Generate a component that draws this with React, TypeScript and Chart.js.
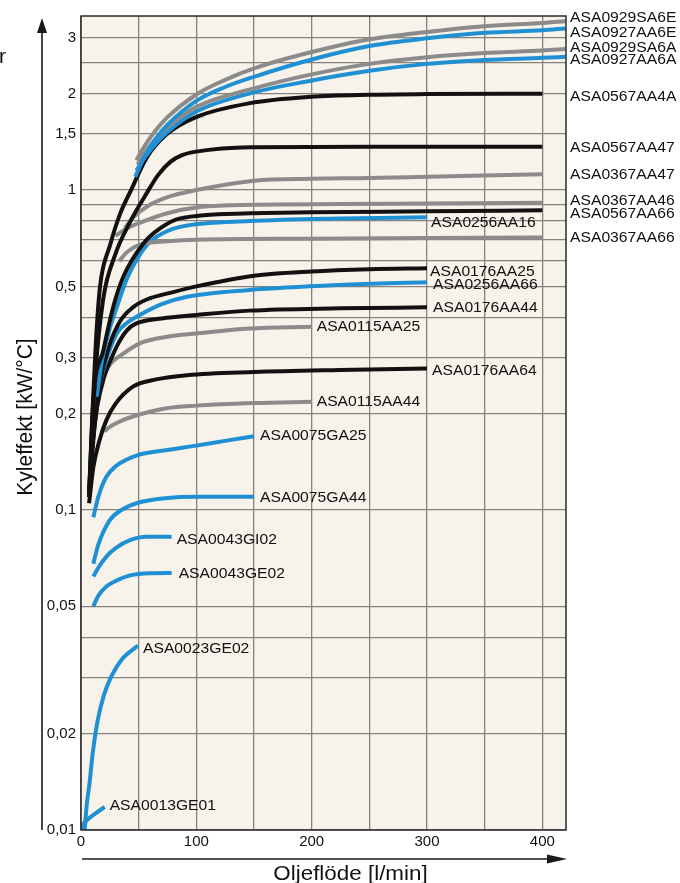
import React, { useEffect, useRef } from 'react';
import { Chart, registerables } from 'chart.js';

Chart.register(...registerables);

// ---------- data (x = Oljeflöde l/min, y = Kyleffekt kW/°C) ----------
const ASA0929SA6E = [[48, 1.24], [55, 1.37], [65, 1.54], [75, 1.69], [100, 1.99], [125, 2.21], [150, 2.4], [200, 2.7], [250, 2.96], [300, 3.12], [350, 3.25], [400, 3.33], [420, 3.37]];
const ASA0927AA6E = [[47, 1.1], [55, 1.27], [65, 1.45], [75, 1.6], [100, 1.9], [125, 2.1], [150, 2.26], [200, 2.56], [250, 2.82], [300, 2.98], [350, 3.1], [400, 3.16], [420, 3.2]];
const ASA0929SA6A = [[49, 1.2], [55, 1.3], [65, 1.45], [75, 1.57], [100, 1.82], [150, 2.08], [200, 2.3], [250, 2.48], [300, 2.6], [350, 2.68], [400, 2.73], [420, 2.76]];
const ASA0927AA6A = [[48, 1.15], [55, 1.26], [65, 1.4], [75, 1.52], [100, 1.76], [150, 2.02], [200, 2.2], [250, 2.36], [300, 2.48], [350, 2.55], [400, 2.59], [420, 2.61]];
const ASA0567AA4A = [[6.9, 0.11], [10.4, 0.22], [13, 0.34], [16.5, 0.5], [25.2, 0.673], [33.8, 0.841], [43.4, 1.0], [57.2, 1.268], [74.5, 1.496], [99.7, 1.69], [146.6, 1.87], [199.5, 1.958], [249.8, 1.986], [300, 1.995], [400, 2.0]];
const ASA0567AA47 = [[6.9, 0.11], [12.1, 0.255], [19.1, 0.453], [29.5, 0.626], [42.5, 0.794], [55.5, 0.958], [66.8, 1.114], [77.2, 1.223], [87.6, 1.286], [99.7, 1.319], [146.6, 1.362], [250, 1.366], [400, 1.367]];
const ASA0367AA47 = [[38, 0.76], [45, 0.82], [57, 0.887], [75, 0.95], [100, 1.0], [150, 1.07], [200, 1.085], [250, 1.09], [300, 1.1], [400, 1.12]];
const ASA0367AA46 = [[30, 0.72], [40, 0.76], [51, 0.79], [74, 0.845], [103, 0.885], [150, 0.9], [224, 0.904], [300, 0.908], [400, 0.913]];
const ASA0567AA66 = [[7, 0.11], [10.7, 0.22], [19.4, 0.316], [28, 0.432], [36.7, 0.536], [54, 0.68], [68.5, 0.759], [86, 0.816], [146.5, 0.846], [200, 0.852], [300, 0.858], [400, 0.865]];
const ASA0367AA66 = [[33, 0.6], [40, 0.64], [51, 0.675], [75, 0.692], [100, 0.7], [200, 0.705], [300, 0.708], [400, 0.711]];
const ASA0256AA16 = [[13.6, 0.226], [18, 0.29], [25, 0.37], [31, 0.43], [40, 0.53], [50, 0.62], [60, 0.69], [75, 0.745], [92, 0.775], [146, 0.8], [224, 0.815], [300, 0.822]];
const ASA0176AA25 = [[7, 0.11], [11, 0.17], [16.5, 0.25], [25, 0.33], [34, 0.39], [45, 0.43], [57, 0.455], [80, 0.48], [100, 0.5], [150, 0.54], [200, 0.557], [250, 0.566], [300, 0.57]];
const ASA0256AA66 = [[13.6, 0.226], [20, 0.28], [31, 0.356], [40, 0.385], [51, 0.407], [70, 0.44], [92, 0.464], [146, 0.487], [224, 0.505], [300, 0.515]];
const ASA0176AA44 = [[7, 0.11], [10, 0.16], [14, 0.21], [20, 0.26], [25, 0.29], [32, 0.33], [40, 0.365], [48, 0.383], [70, 0.397], [100, 0.407], [146, 0.42], [224, 0.427], [300, 0.43]];
const ASA0115AA25 = [[18, 0.26], [25, 0.285], [37, 0.309], [51, 0.332], [75, 0.348], [100, 0.356], [146, 0.369], [200, 0.374]];
const ASA0176AA64 = [[7, 0.105], [10.7, 0.136], [16, 0.165], [22, 0.191], [30, 0.215], [45, 0.243], [65, 0.256], [92, 0.264], [150, 0.27], [224, 0.274], [300, 0.277]];
const ASA0115AA44 = [[20, 0.176], [25, 0.182], [35, 0.19], [45, 0.196], [74, 0.208], [100, 0.212], [150, 0.216], [200, 0.218]];
const ASA0075GA25 = [[10.7, 0.095], [15, 0.11], [22, 0.127], [30, 0.137], [48, 0.148], [75, 0.154], [100, 0.159], [125, 0.1645], [150, 0.17]];
const ASA0075GA44 = [[10.7, 0.068], [15, 0.078], [25, 0.093], [35, 0.1], [48, 0.105], [75, 0.109], [100, 0.11], [150, 0.11]];
const ASA0043GI02 = [[10.7, 0.062], [15, 0.066], [22, 0.0715], [30, 0.076], [42.5, 0.0805], [57, 0.0825], [78.6, 0.0825]];
const ASA0043GE02 = [[10.7, 0.05], [15, 0.054], [22, 0.0577], [30, 0.06], [42.5, 0.0625], [60, 0.0635], [78.6, 0.0636]];
const ASA0023GE02 = [[3.2, 0.01], [5, 0.012], [7.5, 0.0141], [10, 0.0172], [14.7, 0.0222], [20, 0.0265], [26.3, 0.0302], [35, 0.034], [49.4, 0.0377]];
const ASA0013GE01 = [[0.5, 0.01], [2, 0.0104], [6, 0.0108], [13, 0.0113], [20.5, 0.0118]];

const xGridValues = [0, 50, 100, 150, 200, 250, 300, 350, 400];
const xTickLabels = [0, 100, 200, 300, 400];
const yGridValues = [0.01, 0.02, 0.03, 0.04, 0.05, 0.1, 0.2, 0.3, 0.4, 0.5, 0.6, 0.7, 0.8, 0.9, 1, 1.5, 2, 2.5, 3];
const yTickLabels = [0.01, 0.02, 0.05, 0.1, 0.2, 0.3, 0.5, 1, 1.5, 2, 3];

const xTitle = 'Oljeflöde [l/min]';
const yTitle = 'Kyleffekt [kW/°C]';

// ---------- styles ----------
const BLUE = '#1f90d3';
const GRAY = '#8b8b8b';
const BLACK = '#111111';
const BG = '#f7f3ea';
const GRID = '#86827b';
const FONT = '"Liberation Sans", Arial, sans-serif';
const STRETCH = 1.12;

const series = [
  { name: 'ASA0929SA6E', points: ASA0929SA6E, color: GRAY },
  { name: 'ASA0927AA6E', points: ASA0927AA6E, color: BLUE },
  { name: 'ASA0929SA6A', points: ASA0929SA6A, color: GRAY },
  { name: 'ASA0927AA6A', points: ASA0927AA6A, color: BLUE },
  { name: 'ASA0567AA4A', points: ASA0567AA4A, color: BLACK },
  { name: 'ASA0567AA47', points: ASA0567AA47, color: BLACK },
  { name: 'ASA0367AA47', points: ASA0367AA47, color: GRAY },
  { name: 'ASA0367AA46', points: ASA0367AA46, color: GRAY },
  { name: 'ASA0567AA66', points: ASA0567AA66, color: BLACK },
  { name: 'ASA0367AA66', points: ASA0367AA66, color: GRAY },
  { name: 'ASA0256AA16', points: ASA0256AA16, color: BLUE },
  { name: 'ASA0176AA25', points: ASA0176AA25, color: BLACK },
  { name: 'ASA0256AA66', points: ASA0256AA66, color: BLUE },
  { name: 'ASA0176AA44', points: ASA0176AA44, color: BLACK },
  { name: 'ASA0115AA25', points: ASA0115AA25, color: GRAY },
  { name: 'ASA0176AA64', points: ASA0176AA64, color: BLACK },
  { name: 'ASA0115AA44', points: ASA0115AA44, color: GRAY },
  { name: 'ASA0075GA25', points: ASA0075GA25, color: BLUE },
  { name: 'ASA0075GA44', points: ASA0075GA44, color: BLUE },
  { name: 'ASA0043GI02', points: ASA0043GI02, color: BLUE },
  { name: 'ASA0043GE02', points: ASA0043GE02, color: BLUE },
  { name: 'ASA0023GE02', points: ASA0023GE02, color: BLUE },
  { name: 'ASA0013GE01', points: ASA0013GE01, color: BLUE },
];

// label placement (pixel offsets from the end of each curve)
const rightEdgeLabels = new Set([
  'ASA0929SA6E', 'ASA0927AA6E', 'ASA0929SA6A', 'ASA0927AA6A', 'ASA0567AA4A',
  'ASA0567AA47', 'ASA0367AA47', 'ASA0367AA46', 'ASA0567AA66', 'ASA0367AA66',
]);
const labelOffsets: Record<string, [number, number]> = {
  ASA0929SA6E: [4, -3.4], ASA0927AA6E: [4, 5], ASA0929SA6A: [4, -0.6], ASA0927AA6A: [4, 3.3],
  ASA0567AA4A: [4, 3], ASA0567AA47: [4, 2], ASA0367AA47: [4, 1], ASA0367AA46: [4, -1.6],
  ASA0567AA66: [4, 4.2], ASA0367AA66: [4, 1],
  ASA0256AA16: [4, 6], ASA0176AA25: [3, 3.5], ASA0256AA66: [6, 3], ASA0176AA44: [6, 1],
  ASA0115AA25: [5, 0], ASA0176AA64: [5, 2.5], ASA0115AA44: [5, 0.6], ASA0075GA25: [6, 0],
  ASA0075GA44: [6, 1.5], ASA0043GI02: [5, 3], ASA0043GE02: [7, 1], ASA0023GE02: [5, 4],
  ASA0013GE01: [5, -1],
};

const fmt = (v: number) => String(v).replace('.', ',');

const decorPlugin = {
  id: 'decor',
  beforeDraw(chart: any) {
    const { ctx, chartArea: a } = chart;
    ctx.save();
    ctx.fillStyle = '#ffffff';
    ctx.fillRect(0, 0, chart.width, chart.height);
    ctx.fillStyle = BG;
    ctx.fillRect(a.left, a.top, a.right - a.left, a.bottom - a.top);
    ctx.restore();
  },
  afterDraw(chart: any) {
    const { ctx, chartArea: a, scales } = chart;
    const xs = scales.x;
    const ys = scales.y;
    ctx.save();
    // plot frame
    ctx.strokeStyle = '#2a2a2a';
    ctx.lineWidth = 1.5;
    ctx.strokeRect(a.left, a.top, a.right - a.left, a.bottom - a.top);

    // y axis arrow
    const ax = a.left - 39;
    ctx.strokeStyle = '#1a1a1a';
    ctx.fillStyle = '#1a1a1a';
    ctx.lineWidth = 1.6;
    ctx.beginPath();
    ctx.moveTo(ax, a.bottom);
    ctx.lineTo(ax, a.top + 12);
    ctx.stroke();
    ctx.beginPath();
    ctx.moveTo(ax, a.top + 2);
    ctx.lineTo(ax - 5, a.top + 17);
    ctx.lineTo(ax + 5, a.top + 17);
    ctx.closePath();
    ctx.fill();

    // x axis arrow
    const ay = a.bottom + 29;
    ctx.beginPath();
    ctx.moveTo(a.left + 1, ay);
    ctx.lineTo(a.right - 15, ay);
    ctx.stroke();
    ctx.beginPath();
    ctx.moveTo(a.right + 1, ay);
    ctx.lineTo(a.right - 19, ay - 4.5);
    ctx.lineTo(a.right - 19, ay + 4.5);
    ctx.closePath();
    ctx.fill();

    // axis titles
    ctx.fillStyle = '#111';
    ctx.font = `20px ${FONT}`;
    ctx.textAlign = 'center';
    ctx.textBaseline = 'alphabetic';
    ctx.save();
    ctx.translate(350.5, 880);
    ctx.scale(STRETCH, 1);
    ctx.fillText(xTitle, 0, 0);
    ctx.restore();

    ctx.font = `21px ${FONT}`;
    ctx.save();
    ctx.translate(31.5, 417);
    ctx.scale(1.06, 1);
    ctx.rotate(-Math.PI / 2);
    ctx.fillText(yTitle, 0, 0);
    ctx.restore();

    ctx.textAlign = 'left';
    ctx.fillText('r', -1, 63);

    // curve labels
    ctx.font = `14px ${FONT}`;
    ctx.textBaseline = 'middle';
    ctx.textAlign = 'left';
    series.forEach((s) => {
      const last = s.points[s.points.length - 1];
      const [dx, dy] = labelOffsets[s.name];
      const px = rightEdgeLabels.has(s.name) ? a.right + dx : xs.getPixelForValue(last[0]) + dx;
      const py = ys.getPixelForValue(last[1]) + dy;
      ctx.save();
      ctx.translate(px, py);
      ctx.scale(STRETCH, 1);
      ctx.fillText(s.name, 0, 0);
      ctx.restore();
    });
    ctx.restore();
  },
};

export default function App() {
  const ref = useRef<HTMLCanvasElement>(null);
  useEffect(() => {
    document.body.style.margin = '0';
    const canvas = ref.current;
    if (!canvas) return;
    const chart = new Chart(canvas, {
      type: 'line',
      data: {
        datasets: series.map((s) => ({
          label: s.name,
          data: s.points.map(([x, y]) => ({ x, y })),
          borderColor: s.color,
          backgroundColor: s.color,
          borderWidth: 4,
          pointRadius: 0,
          tension: 0.4,
          cubicInterpolationMode: 'monotone',
          fill: false,
        })),
      },
      options: {
        responsive: false,
        animation: false,
        events: [],
        layout: { padding: { top: 16, right: 114, bottom: 0, left: 0 } },
        plugins: { legend: { display: false }, tooltip: { enabled: false }, title: { display: false } },
        scales: {
          x: {
            type: 'linear',
            min: 0,
            max: 420.5,
            afterFit: (scale: any) => { scale.height = 53; },
            afterBuildTicks: (scale: any) => { scale.ticks = xGridValues.map((v) => ({ value: v })); },
            grid: { color: GRID, lineWidth: 1.3, drawTicks: false },
            border: { display: false },
            ticks: {
              autoSkip: false,
              maxRotation: 0,
              padding: 3,
              color: '#111',
              font: { family: FONT, size: 15 },
              callback: (v: any) => (xTickLabels.includes(Number(v)) ? String(v) : ''),
            },
          },
          y: {
            type: 'logarithmic',
            min: 0.01,
            max: 3.5,
            afterFit: (scale: any) => { scale.width = 81; },
            afterBuildTicks: (scale: any) => { scale.ticks = yGridValues.map((v) => ({ value: v })); },
            grid: { color: GRID, lineWidth: 1.3, drawTicks: false },
            border: { display: false },
            ticks: {
              autoSkip: false,
              padding: 5,
              color: '#111',
              font: { family: FONT, size: 15 },
              callback: (v: any) => {
                const n = Number(v);
                return yTickLabels.some((t) => Math.abs(t - n) < 1e-9) ? fmt(n) : '';
              },
            },
          },
        },
      },
      plugins: [decorPlugin],
    } as any);
    return () => chart.destroy();
  }, []);
  return (
    <div style={{ position: 'absolute', left: 0, top: 0, width: 680, height: 883 }}>
      <canvas ref={ref} width={680} height={883} style={{ display: 'block', width: 680, height: 883 }} />
    </div>
  );
}
